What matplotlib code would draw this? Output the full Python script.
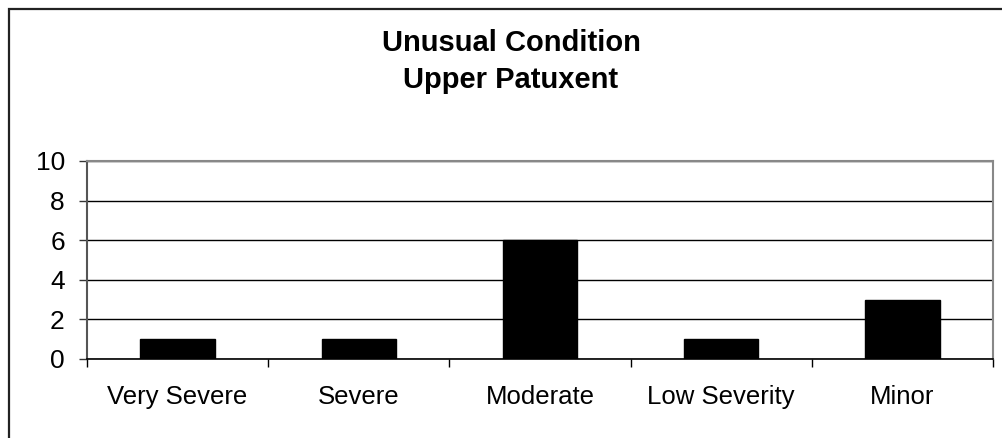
import matplotlib.pyplot as plt
from matplotlib.patches import Rectangle

categories = ["Very Severe", "Severe", "Moderate", "Low Severity", "Minor"]
counts = [1, 1, 6, 1, 3]
yticks = [0, 2, 4, 6, 8, 10]

plt.rcParams['font.family'] = ['Liberation Sans', 'DejaVu Sans']

W, H = 1002, 438
fig = plt.figure(figsize=(W / 100, H / 100), dpi=100)
fig.patch.set_facecolor("white")

# outer chart border (runs off the right/bottom edge in the reference)
fig.add_artist(Rectangle((9 / W, -0.2), 1.2, 1.2 - 9 / H, transform=fig.transFigure,
                         fill=False, edgecolor="#222222", linewidth=1.6))

ax = fig.add_axes([87 / W, 1 - 359 / H, (993 - 87) / W, (359 - 161) / H])
x = range(len(categories))
ax.bar(x, counts, width=0.41, color="black", edgecolor="black", zorder=3)

ax.set_xlim(-0.5, len(categories) - 0.5)
ax.set_ylim(0, 10)
ax.set_yticks(yticks)
ax.set_yticklabels([str(v) for v in yticks], fontsize=19)
ax.yaxis.grid(True, color="black", linewidth=1.0, zorder=0)

ax.set_xticks(list(x))
ax.set_xticklabels(categories, fontsize=18.5)
ax.tick_params(axis="x", length=0, pad=19)
ax.set_xticks([i - 0.5 for i in range(len(categories) + 1)], minor=True)
ax.tick_params(axis="x", which="minor", length=6, width=1, color="black")
ax.tick_params(axis="y", length=6, width=1, color="#333333", pad=10)

for side in ["top", "right"]:
    ax.spines[side].set_color("#888888")
    ax.spines[side].set_linewidth(1.5)
ax.spines["left"].set_color("#555555")
ax.spines["left"].set_linewidth(1.5)
ax.spines["bottom"].set_color("black")
ax.spines["bottom"].set_linewidth(1.2)

fig.text(511 / W, 1 - 43 / H, "Unusual Condition", ha="center", va="center",
         fontsize=21, fontweight="bold")
fig.text(511 / W, 1 - 80 / H, "Upper Patuxent", ha="center", va="center",
         fontsize=21, fontweight="bold")

fig.savefig("out.png", dpi=100)
